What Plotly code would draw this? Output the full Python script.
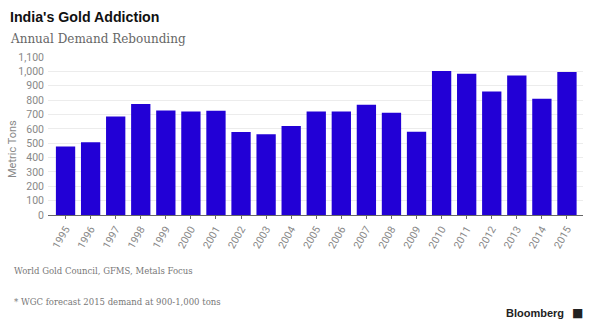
import plotly.graph_objects as go

years = [str(y) for y in range(1995, 2016)]
demand = [477, 507, 686, 772, 728, 721, 726, 577, 563, 619, 721,
          721, 767, 712, 579, 1002, 984, 860, 972, 809, 995]
y_ticks = [0, 100, 200, 300, 400, 500, 600, 700, 800, 900, 1000, 1100]

title = "India's Gold Addiction"
subtitle = "Annual Demand Rebounding"
source = "World Gold Council, GFMS, Metals Focus"
footnote = "* WGC forecast 2015 demand at 900-1,000 tons"

W, H = 600, 326
L, R, T, B = 48, 17, 57, 111

fig = go.Figure()
fig.add_trace(go.Bar(x=list(range(len(years))), y=demand,
                     marker=dict(color="#2200d6", line=dict(width=0)),
                     width=0.77))

fig.update_layout(
    width=W, height=H,
    margin=dict(l=L, r=R, t=T, b=B),
    paper_bgcolor="white", plot_bgcolor="white",
    showlegend=False,
    font=dict(family="Roboto", color="#888888", size=10),
    xaxis=dict(
        tickmode="array", tickvals=list(range(len(years))), ticktext=years,
        range=[-0.7, 20.64], tickangle=-60,
        showline=True, linecolor="#666666", linewidth=1,
        ticks="outside", ticklen=3, tickcolor="#666666",
        showgrid=False, zeroline=False,
        tickfont=dict(size=10.5, color="#888888", family="Roboto"),
    ),
    yaxis=dict(
        range=[0, 1100], tickvals=y_ticks, tickformat=",",
        showgrid=True, gridcolor="#ececec", gridwidth=1,
        zeroline=False, showline=False, ticks="",
        ticklabelstandoff=3,
        tickfont=dict(size=10.5, color="#888888", family="Roboto"),
    ),
)


def fx(px):
    return (px - L) / (W - L - R)


def fy(py):
    return 1 - (py - T) / (H - T - B)


anns = [
    dict(text=f"<b>{title}</b>", x=fx(8), y=fy(17), xanchor="left", yanchor="middle",
         font=dict(family="Liberation Sans", size=14.2, color="#111111")),
    dict(text=subtitle, x=fx(8), y=fy(39), xanchor="left", yanchor="middle",
         font=dict(family="DejaVu Serif", size=12, color="#666666")),
    dict(text="Metric Tons", x=fx(12), y=fy(149), xanchor="center", yanchor="middle",
         textangle=-90, font=dict(family="Roboto", size=11, color="#888888")),
    dict(text=source, x=fx(12), y=fy(271), xanchor="left", yanchor="middle",
         font=dict(family="DejaVu Serif", size=8.5, color="#777777")),
    dict(text=footnote, x=fx(12), y=fy(302), xanchor="left", yanchor="middle",
         font=dict(family="DejaVu Serif", size=8.5, color="#777777")),
    dict(text="<b>Bloomberg</b>", x=fx(566), y=fy(313), xanchor="right", yanchor="middle",
         font=dict(family="Liberation Sans", size=11, color="#222222")),
    dict(text="■", x=fx(570), y=fy(313), xanchor="left", yanchor="middle",
         font=dict(family="DejaVu Sans", size=12, color="#222222")),
]
for a in anns:
    fig.add_annotation(xref="paper", yref="paper", showarrow=False, **a)

fig.write_html("out.html")
